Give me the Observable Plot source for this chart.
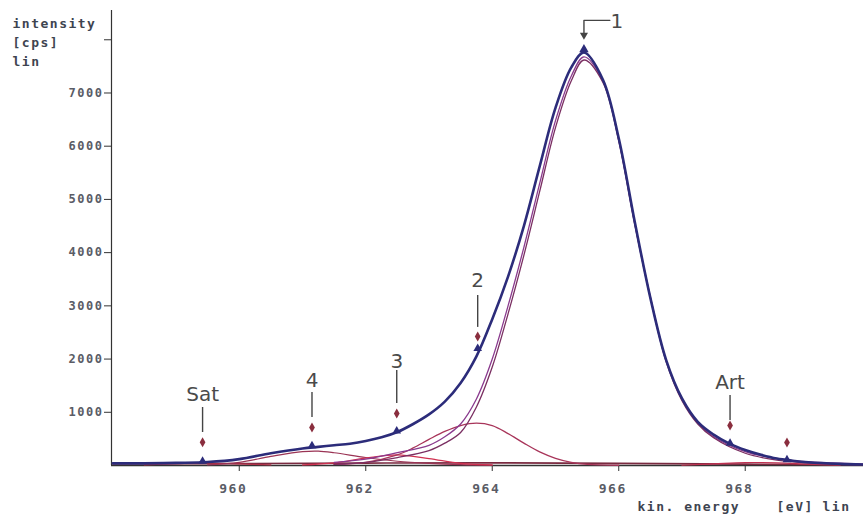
<!DOCTYPE html>
<html>
<head>
<meta charset="utf-8">
<script src="https://cdn.jsdelivr.net/npm/d3@7"></script>
<script src="https://cdn.jsdelivr.net/npm/@observablehq/plot@0.6"></script>
<style>
  html, body { margin: 0; padding: 0; background: #fff; }
  #chart { width: 863px; height: 517px; }
  #chart g[font-family*="Mono"], #chart g[font-family*="Mono"] text { letter-spacing: 1.5px; }
</style>
</head>
<body>
<div id="chart"></div>
<script>
// ---- data ----
const envelopeE = [958, 958.5, 959, 959.5, 960, 960.5, 961, 961.25, 961.5, 961.75, 962, 962.25, 962.5, 962.75, 963, 963.25, 963.5, 963.75, 964, 964.25, 964.5, 964.75, 965, 965.25, 965.45, 965.75, 966, 966.25, 966.5, 966.75, 967, 967.25, 967.5, 967.75, 968, 968.25, 968.5, 968.75, 969, 969.5, 969.87];
const envelopeI = [40, 40, 50, 65, 120, 230, 320, 350, 380, 410, 460, 530, 630, 780, 960, 1200, 1550, 2050, 2750, 3550, 4500, 5620, 6720, 7480, 7760, 7250, 6150, 4600, 3150, 1980, 1260, 820, 580, 410, 290, 200, 130, 90, 60, 30, 20];

const peak1E = [961.5, 962, 962.5, 963, 963.25, 963.5, 963.75, 964, 964.25, 964.5, 964.75, 965, 965.25, 965.45, 965.75, 966, 966.25, 966.5, 966.75, 967, 967.25, 967.5, 968, 968.5, 969, 969.87];
const peak1I = [20, 60, 150, 280, 420, 620, 1100, 1850, 2850, 3950, 5150, 6350, 7230, 7620, 7200, 6100, 4550, 3150, 1950, 1220, 780, 520, 230, 100, 45, 15];
const peak1bI = [60, 120, 240, 380, 540, 780, 1250, 2000, 3000, 4100, 5300, 6480, 7320, 7680, 7230, 6120, 4570, 3170, 1970, 1250, 800, 540, 260, 130, 70, 30];

const peak2E = [961.5, 962, 962.5, 962.75, 963, 963.25, 963.5, 963.75, 964, 964.25, 964.5, 964.75, 965, 965.25, 965.5, 966];
const peak2I = [20, 60, 200, 330, 490, 640, 750, 795, 750, 600, 420, 255, 135, 60, 20, 5];

const peak3E = [961, 961.5, 962, 962.5, 963, 963.5, 964];
const peak3I = [10, 50, 140, 200, 130, 40, 10];

const peak4E = [959.5, 960, 960.5, 961, 961.25, 961.5, 962, 962.5, 963, 963.5, 964];
const peak4I = [10, 60, 170, 260, 270, 240, 150, 80, 40, 15, 5];

const satE = [958.5, 959, 959.4, 960, 960.5];
const satI = [10, 35, 50, 30, 10];

const artE = [967, 967.5, 968, 968.5, 969, 969.5];
const artI = [5, 30, 55, 50, 25, 5];

const backgroundE = [958, 960, 962, 964, 966, 968, 969.87];
const backgroundI = [30, 35, 45, 50, 40, 25, 15];

// peak markers
const markerLabels = ["Sat", "4", "3", "2", "Art", ""];
const markerE = [959.42, 961.15, 962.49, 963.77, 967.76, 968.66];
const markerDotI = [438, 714, 977, 2425, 752, 432];
const markerTriI = [80, 370, 650, 2200, 420, 110];
const labelI = [1335, 1600, 1955, 3480, 1560, null];
const lineTopI = [1090, 1370, 1785, 3195, 1315, null];
const lineBottomI = [620, 900, 1165, 2595, 845, null];

// peak 1 bracket
const peak1Pos = 965.45;
const peak1Top = 7760;
const bracketE = [965.86, 965.45, 965.45];
const bracketI = [8365, 8365, 8120];

const xTicks = [960, 962, 964, 966, 968];
const yTicks = [1000, 2000, 3000, 4000, 5000, 6000, 7000, 8000];
const xDomain = [957.98, 969.87];
const yDomain = [0, 8550];
const yTitle = ["intensity", "[cps]", "lin"];
const xTitle = ["kin. energy", "[eV]", "lin"];

// ---- build ----
const zip = (E, I) => E.map((e, i) => ({e, i: I[i]}));
const envelope = zip(envelopeE, envelopeI);
const peak1 = zip(peak1E, peak1I);
const peak1b = zip(peak1E, peak1bI);
const peak2 = zip(peak2E, peak2I);
const peak3 = zip(peak3E, peak3I);
const peak4 = zip(peak4E, peak4I);
const sat = zip(satE, satI);
const art = zip(artE, artI);
const background = zip(backgroundE, backgroundI);
const bracket = zip(bracketE, bracketI);
const markers = markerE.map((e, k) => ({
  e, label: markerLabels[k], dot: markerDotI[k], tri: markerTriI[k],
  lab: labelI[k], top: lineTopI[k], bot: lineBottomI[k]
}));
const labeled = markers.filter(d => d.label);

const mono = "'DejaVu Sans Mono', 'Liberation Mono', monospace";
const hand = "'DejaVu Sans', 'Liberation Sans', sans-serif";
const tickColor = "#5a5c66";
const titleColor = "#3e4450";
const navy = "#2c2c7a";
const line = (data, stroke, w) => Plot.line(data, {x: "e", y: "i", stroke, strokeWidth: w, curve: "catmull-rom"});
const titleLine = (t, k) => Plot.text([t], {frameAnchor: "top-left", text: d => d,
  dx: -99, dy: 8 + k * 19, textAnchor: "start",
  fontFamily: mono, fontWeight: "bold", fontSize: 13, fill: titleColor});
const xTitleOffsets = [526, 665, 711];
const xTitlePart = (t, k) => Plot.text([t], {frameAnchor: "bottom-left", text: d => d,
  dx: xTitleOffsets[k], dy: 45, textAnchor: "start",
  fontFamily: mono, fontWeight: "bold", fontSize: 13, fill: titleColor});

const chart = Plot.plot({
  width: 863,
  height: 517,
  marginLeft: 111,
  marginRight: 0,
  marginTop: 10,
  marginBottom: 52,
  style: {fontFamily: mono, fontSize: "11px", background: "#fff", overflow: "visible"},
  x: {domain: xDomain, axis: null},
  y: {domain: yDomain, axis: null},
  marks: [
    // axes
    Plot.ruleX([xDomain[0]], {y1: 0, y2: yDomain[1], stroke: "#333", strokeWidth: 1.2}),
    Plot.ruleY([0], {stroke: "#333", strokeWidth: 1.5}),
    Plot.axisY({ticks: yTicks, tickSize: 7, tickPadding: 1, label: null, tickFormat: d => d === 8000 ? "" : String(d),
      fontFamily: mono, fontWeight: "bold", fontSize: 12, fill: tickColor, stroke: "#333"}),
    Plot.axisX({ticks: xTicks, tickSize: 6, label: null, tickFormat: () => "", stroke: "#333"}),
    Plot.text(xTicks, {x: d => d, y: 0, dy: 23, dx: -6, text: d => String(d),
      fontFamily: mono, fontWeight: "bold", fontSize: 13, fill: tickColor}),
    // axis titles
    ...yTitle.map(titleLine),
    ...xTitle.map(xTitlePart),
    // fitted components
    line(background, "#7a2a40", 1.6),
    line(sat, "#b03048", 1.2),
    line(art, "#c03050", 1.2),
    line(peak4, "#9a3354", 1.2),
    line(peak3, "#d03050", 1.2),
    line(peak2, "#a8355a", 1.3),
    line(peak1b, "#8a3a8e", 1.3),
    line(peak1, "#7a2f62", 1.3),
    // envelope
    line(envelope, navy, 2.6),
    // peak markers
    Plot.ruleX(labeled, {x: "e", y1: "bot", y2: "top", stroke: "#444", strokeWidth: 1.4}),
    Plot.dot(markers, {x: "e", y: "dot", symbol: "diamond", r: 3, fill: "#8a2e3e"}),
    Plot.dot(markers, {x: "e", y: "tri", symbol: "triangle", r: 3.2, fill: navy}),
    Plot.dot([{e: peak1Pos, i: peak1Top}], {x: "e", y: "i", symbol: "triangle", r: 3.5, fill: navy, dy: -3}),
    Plot.text(labeled, {x: "e", y: "lab", text: "label", fontFamily: hand, fontSize: 20, fill: "#4a4a4a"}),
    // peak 1 bracket
    Plot.line(bracket, {x: "e", y: "i", stroke: "#444", strokeWidth: 1.4, curve: "linear"}),
    Plot.dot([{e: 965.45, i: 8090}], {x: "e", y: "i", symbol: "triangle", rotate: 180, r: 3, fill: "#444"}),
    Plot.text(["1"], {x: 965.97, y: 8340, text: d => d, fontFamily: hand, fontSize: 20, fill: "#4a4a4a"})
  ]
});
document.getElementById("chart").appendChild(chart);
</script>
</body>
</html>
